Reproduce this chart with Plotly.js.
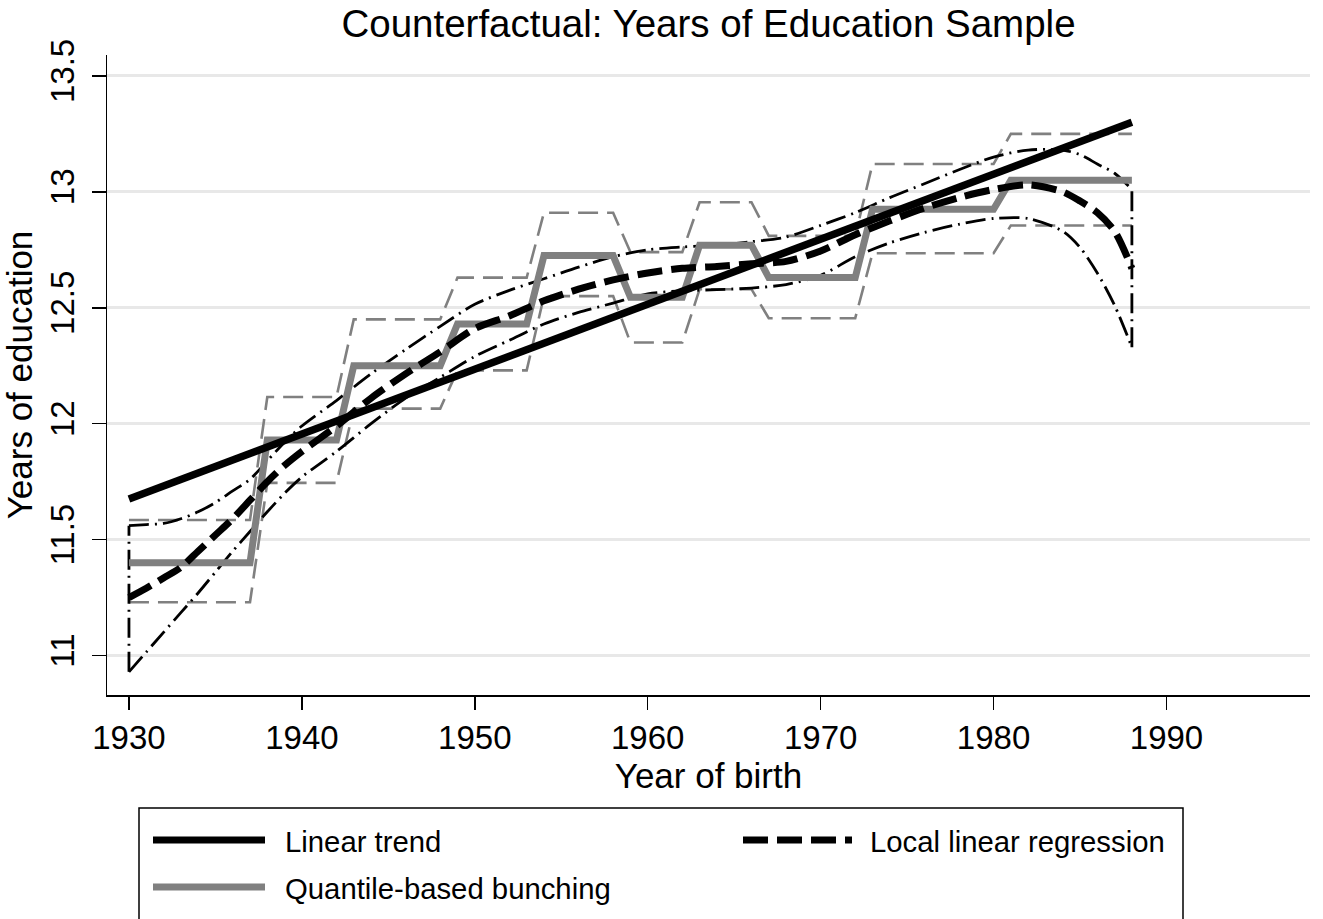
<!DOCTYPE html>
<html><head><meta charset="utf-8">
<script src="https://cdn.plot.ly/plotly-3.0.1.min.js"></script>
<style>html,body{margin:0;padding:0;background:#fff}#chart{width:1323px;height:919px}</style>
</head><body><div id="chart"></div>
<script>
// ---- Data ----
const trendYears = [1930, 1988];
const trendValues = [11.675, 13.30];

const llYears  = [1930,1931,1932,1933,1934,1935,1936,1937,1938,1939,1940,1942,1944,1946,1948,1950,1952,1954,1956,1958,1960,1962,1964,1966,1968,1970,1972,1974,1976,1978,1980,1982,1984,1985,1986,1987,1988];
const llValues = [11.25,11.29,11.335,11.38,11.45,11.52,11.59,11.67,11.75,11.82,11.88,11.99,12.11,12.215,12.31,12.41,12.465,12.53,12.58,12.62,12.65,12.67,12.678,12.69,12.70,12.745,12.815,12.875,12.93,12.975,13.01,13.03,13.00,12.96,12.91,12.83,12.67];
const llUpper  = [11.56,11.565,11.57,11.59,11.62,11.66,11.71,11.76,11.84,11.92,11.99,12.10,12.215,12.32,12.42,12.515,12.575,12.625,12.675,12.72,12.75,12.762,12.77,12.785,12.805,12.855,12.91,12.975,13.035,13.095,13.15,13.18,13.18,13.16,13.12,13.08,13.01];
const llLower  = [10.93,11.015,11.10,11.185,11.27,11.36,11.45,11.535,11.62,11.70,11.77,11.88,12.00,12.11,12.20,12.29,12.36,12.43,12.48,12.52,12.56,12.573,12.578,12.585,12.60,12.64,12.72,12.78,12.825,12.86,12.885,12.885,12.83,12.76,12.65,12.51,12.33];

const qStart  = [1930,1938,1943,1949,1954,1959,1963,1967,1973,1981];
const qEnd    = [1937,1942,1948,1953,1958,1962,1966,1972,1980,1988];
const qValues = [11.40,11.93,12.25,12.43,12.725,12.545,12.77,12.63,12.925,13.05];
const qUpper  = [11.585,12.115,12.45,12.63,12.91,12.74,12.955,12.81,13.12,13.25];
const qLower  = [11.23,11.745,12.065,12.23,12.55,12.35,12.58,12.455,12.735,12.855];

const xTicks = [1930,1940,1950,1960,1970,1980,1990];
const yTicks = [11,11.5,12,12.5,13,13.5];
const yTickText = ['11','11.5','12','12.5','13','13.5'];

const labels = {
  title: 'Counterfactual: Years of Education Sample',
  x: 'Year of birth', y: 'Years of education',
  trend: 'Linear trend', ll: 'Local linear regression', q: 'Quantile-based bunching'
};

// ---- Build ----
function steps(vals){
  const x=[], y=[];
  for(let i=0;i<vals.length;i++){ x.push(qStart[i], qEnd[i]); y.push(vals[i], vals[i]); }
  return {x, y};
}
const FONT = 'Liberation Sans, Arial, Helvetica, sans-serif';
const GREY = '#808080';
const last = llYears.length-1;

const traces = [];
const qu = steps(qUpper), ql = steps(qLower), qv = steps(qValues);
traces.push({x:qu.x, y:qu.y, mode:'lines', line:{color:GREY, width:2.6, dash:'20px,9px'}, showlegend:false, hoverinfo:'skip'});
traces.push({x:ql.x, y:ql.y, mode:'lines', line:{color:GREY, width:2.6, dash:'20px,9px'}, showlegend:false, hoverinfo:'skip'});
const ciLine = {color:'#000', width:2.8, dash:'20px,6px,2px,6px'};
traces.push({x:llYears, y:llUpper, mode:'lines', line:Object.assign({shape:'spline', smoothing:0.8}, ciLine), showlegend:false, hoverinfo:'skip'});
traces.push({x:llYears, y:llLower, mode:'lines', line:Object.assign({shape:'spline', smoothing:0.8}, ciLine), showlegend:false, hoverinfo:'skip'});
traces.push({x:[llYears[0], llYears[0]], y:[llLower[0], llUpper[0]], mode:'lines', line:ciLine, showlegend:false, hoverinfo:'skip'});
traces.push({x:[llYears[last], llYears[last]], y:[llLower[last], llUpper[last]], mode:'lines', line:ciLine, showlegend:false, hoverinfo:'skip'});
traces.push({x:qv.x, y:qv.y, mode:'lines', name:labels.q, line:{color:GREY, width:7}, showlegend:false});
traces.push({x:trendYears, y:trendValues, mode:'lines', name:labels.trend, line:{color:'#000', width:7.5}, showlegend:false});
traces.push({x:llYears, y:llValues, mode:'lines', name:labels.ll, line:{color:'#000', width:7, dash:'25px,9px', shape:'spline', smoothing:0.8}, showlegend:false});

// plot area in pixels
const L=107, R=13, T=55, B=224, W=1323, H=919;
const PW=W-L-R, PH=H-T-B;
const px = v => (v-L)/PW;
const py = v => (H-B-v)/PH;

const shapes = [
  {type:'rect', xref:'paper', yref:'paper', x0:px(139), x1:px(1183), y0:py(808), y1:py(940), line:{color:'#000', width:1.5}, fillcolor:'rgba(0,0,0,0)'},
  {type:'line', xref:'paper', yref:'paper', x0:px(153), x1:px(265), y0:py(840), y1:py(840), line:{color:'#000', width:7}},
  {type:'line', xref:'paper', yref:'paper', x0:px(153), x1:px(265), y0:py(887), y1:py(887), line:{color:GREY, width:7}},
  {type:'line', xref:'paper', yref:'paper', x0:px(743), x1:px(852), y0:py(840), y1:py(840), line:{color:'#000', width:7, dash:'25px,9px'}}
];
const annFont = {family:FONT, size:29.3, color:'#000'};
const annotations = [
  {xref:'paper', yref:'paper', x:px(283), y:py(841), xanchor:'left', yanchor:'middle', text:labels.trend, showarrow:false, font:annFont},
  {xref:'paper', yref:'paper', x:px(283), y:py(888), xanchor:'left', yanchor:'middle', text:labels.q, showarrow:false, font:annFont},
  {xref:'paper', yref:'paper', x:px(868), y:py(841), xanchor:'left', yanchor:'middle', text:labels.ll, showarrow:false, font:annFont}
];

const layout = {
  width:W, height:H,
  margin:{l:L, r:R, t:T, b:B, autoexpand:false},
  paper_bgcolor:'#fff', plot_bgcolor:'#fff',
  font:{family:FONT, color:'#000'},
  showlegend:false,
  title:{text:labels.title, font:{family:FONT, size:38.5, color:'#000'}, x:0.5, xref:'paper', xanchor:'center', y:1-24/H, yref:'container', yanchor:'middle'},
  xaxis:{
    range:[1928.73, 1998.3], tickmode:'array', tickvals:xTicks, ticktext:xTicks.map(String),
    ticks:'outside', ticklen:13, tickwidth:1.5, tickcolor:'#000',
    showline:true, linecolor:'#000', linewidth:1.5, showgrid:false, zeroline:false,
    tickfont:{family:FONT, size:33, color:'#000'},
    title:{text:labels.x, font:{family:FONT, size:35, color:'#000'}, standoff:0}
  },
  yaxis:{
    range:[10.83, 13.59], tickmode:'array', tickvals:yTicks, ticktext:yTickText, tickangle:-90,
    ticks:'outside', ticklen:14, tickwidth:1.5, tickcolor:'#000',
    showline:true, linecolor:'#000', linewidth:1.5, showgrid:true, gridcolor:'#e8e8e8', gridwidth:3, zeroline:false,
    tickfont:{family:FONT, size:33, color:'#000'}, ticklabelstandoff:4,
    title:{text:labels.y, font:{family:FONT, size:35, color:'#000'}, standoff:6}
  },
  shapes:shapes, annotations:annotations
};
Plotly.newPlot('chart', traces, layout, {staticPlot:true, displayModeBar:false});
</script></body></html>
